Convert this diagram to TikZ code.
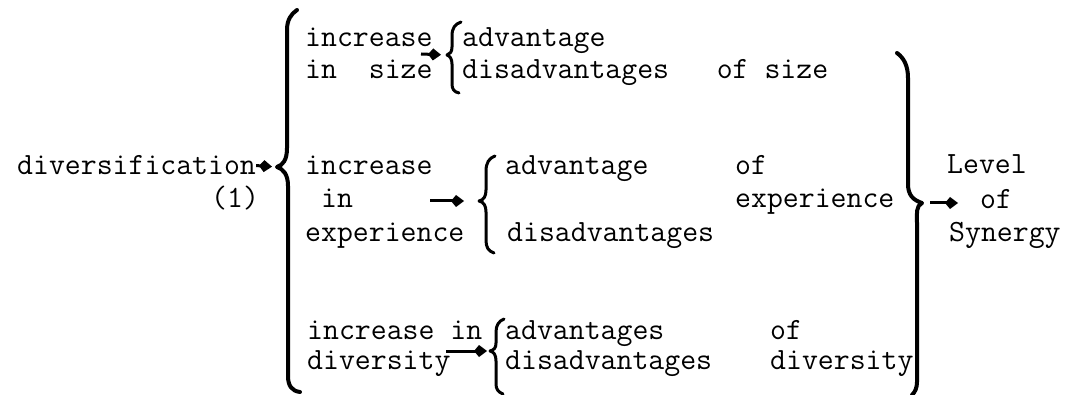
\documentclass[tikz,border=0pt]{standalone}
\usepackage{fontspec}
\usetikzlibrary{arrows.meta}
\begin{document}
\begin{tikzpicture}[x=1pt,y=-1pt,
  txt/.style={anchor=base west,inner sep=0pt,font=\ttfamily\fontsize{30.9}{32}\selectfont},
  brc/.style={line width=4pt,line cap=round,line join=round},
  sbrc/.style={line width=3pt,line cap=round,line join=round},
  arr/.style={line width=3pt,-{Kite[length=13pt,width=12pt,inset=5pt]}}]
\useasboundingbox (0,0) rectangle (1068,395);

% texts
\node[txt] (div) at (17,175) {diversification};
\node[txt] (one) at (211,208) {(1)};
\node[txt] (r1a) at (305,47) {increase};
\node[txt] (r1b) at (305,79) {in\ \ size};
\node[txt] (r1c) at (462,47) {advantage};
\node[txt] (r1d) at (462,79) {disadvantages\ \ \ of size};
\node[txt] (r2a) at (305,175) {increase};
\node[txt] (r2b) at (321,208) {in};
\node[txt] (r2c) at (305,242) {experience};
\node[txt] (r2d) at (505,175) {advantage};
\node[txt] (r2e) at (735,175) {of};
\node[txt] (r2f) at (735,208) {experience};
\node[txt] (r2g) at (507,242) {disadvantages};
\node[txt] (r3a) at (307,339) {increase in};
\node[txt] (r3b) at (307,369) {diversity};
\node[txt] (r3c) at (505,339) {advantages};
\node[txt] (r3d) at (770,339) {of};
\node[txt] (r3e) at (505,369) {disadvantages};
\node[txt] (r3f) at (770,369) {diversity};
\node[txt] (lev) at (947,174) {Level};
\node[txt] (lof) at (980,209) {of};
\node[txt] (syn) at (949,242) {Synergy};

% brace tips
\coordinate (cL) at (277,167);
\coordinate (c1) at (447,55);
\coordinate (c2) at (479,201);
\coordinate (c3) at (490,351);
\coordinate (cR) at (922,203);
% arrow free ends
\coordinate (s1) at (421,54);
\coordinate (s2) at (430,201);
\coordinate (s3) at (446,351);
\coordinate (eR) at (958,203);

% big left brace
\draw[brc] (297,10) .. controls (291,14) and (287,20) .. (287,30)
  -- (287,148) .. controls (287,160) and (283,165) .. (cL)
  .. controls (283,169) and (288,174) .. (288,186)
  -- (288,376) .. controls (288,386) and (292,391) .. (300,392);
% row 1 brace
\draw[sbrc] (461,22) .. controls (455,24) and (452,28) .. (452,36)
  -- (452,47) .. controls (452,52) and (450,54) .. (c1)
  .. controls (450,56) and (452,59) .. (452,64)
  -- (452,84) .. controls (452,89) and (454,92) .. (459,93);
% row 2 brace
\draw[sbrc] (495,156) .. controls (489,158) and (486,163) .. (486,171)
  -- (486,190) .. controls (486,196) and (484,200) .. (c2)
  .. controls (484,202) and (486,206) .. (486,212)
  -- (486,240) .. controls (486,247) and (488,251) .. (494,253);
% row 3 brace
\draw[sbrc] (504,319) .. controls (499,321) and (496,325) .. (496,332)
  -- (496,343) .. controls (496,348) and (494,350) .. (c3)
  .. controls (494,352) and (496,355) .. (496,361)
  -- (496,384) .. controls (496,389) and (498,392) .. (503,394);
% big right brace
\draw[brc] (897,53) .. controls (904,58) and (908,66) .. (908,78)
  -- (908,184) .. controls (908,195) and (913,200) .. (cR)
  .. controls (916,206) and (917,212) .. (917,224)
  -- (917,382) .. controls (917,388) and (915,392) .. (912,395);

% arrows
\draw[arr,shorten >=5pt] (div.east) -- (cL);
\draw[arr,shorten >=6pt] (s1) -- (c1);
\draw[arr,shorten >=15pt] (s2) -- (c2);
\draw[arr,shorten >=3pt] (s3) -- (c3);
\draw[arr,shorten <=8pt] (cR) -- (eR);
\end{tikzpicture}
\end{document}
